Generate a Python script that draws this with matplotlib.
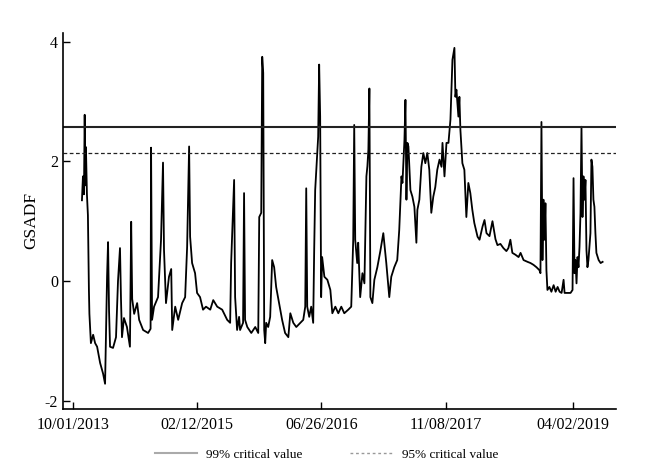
import matplotlib
matplotlib.use("Agg")
import matplotlib.pyplot as plt
from matplotlib.lines import Line2D
import pandas as pd

plt.rcParams['font.family'] = ['Liberation Serif', 'DejaVu Serif']
plt.rcParams['axes.unicode_minus'] = False

# GSADF statistic; x = days since 10/01/2013
start = pd.Timestamp('2013-10-01')
days = [36, 40, 44, 47, 50, 52, 56, 60, 64, 66, 72, 81, 89, 97, 109, 121, 129, 137, 141, 145,
        149, 161, 173, 181, 189, 193, 197, 205, 217, 229, 234, 238, 246, 258, 266, 282, 302, 312, 314, 318,
        326, 342, 354, 362, 366, 374, 386, 395, 399, 411, 423, 439, 451, 459, 467, 471, 479, 491, 499, 511,
        523, 535, 552, 564, 580, 600, 620, 632, 636, 648, 652, 660, 668, 672, 684, 688, 692, 701, 717, 733,
        745, 749, 757, 761, 765, 769, 773, 777, 785, 793, 801, 809, 817, 829, 841, 853, 866, 874, 886, 898,
        914, 926, 934, 938, 942, 950, 958, 966, 970, 974, 978, 986, 990, 994, 998, 1002, 1011, 1023, 1035, 1043,
        1055, 1067, 1079, 1091, 1107, 1119, 1127, 1131, 1135, 1143, 1147, 1155, 1164, 1172, 1180, 1184, 1188, 1192, 1196, 1204,
        1212, 1224, 1236, 1248, 1260, 1272, 1280, 1292, 1304, 1312, 1321, 1325, 1333, 1337, 1341, 1345, 1349, 1357, 1365, 1373,
        1381, 1385, 1393, 1401, 1409, 1417, 1425, 1433, 1441, 1449, 1457, 1465, 1474, 1482, 1486, 1494, 1502, 1510, 1518, 1526,
        1534, 1538, 1542, 1550, 1554, 1558, 1566, 1574, 1582, 1590, 1598, 1606, 1614, 1627, 1635, 1647, 1655, 1663, 1675, 1687,
        1699, 1707, 1719, 1731, 1743, 1751, 1759, 1767, 1779, 1792, 1800, 1812, 1828, 1840, 1852, 1864, 1876, 1880, 1884, 1888,
        1892, 1896, 1900, 1904, 1908, 1916, 1924, 1933, 1941, 1949, 1957, 1965, 1973, 1977, 2001, 2009, 2013, 2017, 2021, 2025,
        2029, 2033, 2037, 2041, 2045, 2049, 2053, 2057, 2061, 2065, 2069, 2073, 2081, 2085, 2089, 2093, 2097, 2101, 2105, 2114,
        2122, 2130]
gsadf = [1.35, 1.75, 1.45, 2.78, 1.6, 2.24, 1.45, 1.1, -0.15, -0.55, -1.04, -0.9, -1.04, -1.1, -1.37, -1.55, -1.72, 0.07, 0.65, -0.5,
         -1.1, -1.12, -0.94, 0.0, 0.55, -0.3, -0.94, -0.62, -0.77, -1.1, 0.99, -0.3, -0.55, -0.37, -0.65, -0.82, -0.87, -0.8, 2.23, -0.65,
         -0.43, -0.27, 0.69, 1.98, 0.52, -0.37, 0.07, 0.2, -0.82, -0.43, -0.65, -0.37, -0.27, 0.57, 2.25, 0.74, 0.3, 0.13, -0.2, -0.27,
         -0.48, -0.43, -0.48, -0.32, -0.43, -0.48, -0.65, -0.7, 0.3, 1.69, -0.27, -0.82, -0.6, -0.82, -0.7, 1.47, -0.65, -0.77, -0.87, -0.77,
         -0.87, 1.07, 1.14, 3.75, 3.48, -0.82, -1.04, -0.7, -0.77, -0.6, 0.35, 0.23, -0.1, -0.37, -0.65, -0.87, -0.94, -0.54, -0.7, -0.77,
         -0.7, -0.65, -0.43, 1.55, -0.43, -0.6, -0.43, -0.7, 0.52, 1.52, 1.81, 2.41, 3.62, 2.75, -0.27, 0.4, 0.07, 0.02, -0.15, -0.54,
         -0.43, -0.54, -0.43, -0.54, -0.48, -0.43, 0.69, 2.61, 0.69, 0.3, 0.64, -0.27, 0.13, -0.04, 1.75, 1.92, 2.2, 3.22, -0.27, -0.37,
         0.02, 0.23, 0.5, 0.8, 0.3, -0.27, 0.07, 0.23, 0.35, 0.85, 1.75, 1.64, 2.36, 3.03, 1.36, 2.31, 2.25, 1.52, 1.41, 1.24,
         0.64, 1.19, 1.36, 1.91, 2.14, 1.97, 2.14, 1.86, 1.14, 1.41, 1.57, 1.86, 2.03, 1.91, 2.31, 1.75, 2.31, 2.31, 2.7, 3.7,
         3.9, 3.08, 3.2, 2.75, 3.08, 2.53, 1.97, 1.86, 1.07, 1.64, 1.47, 1.19, 0.97, 0.74, 0.69, 0.91, 1.02, 0.8, 0.75, 1.0,
         0.7, 0.6, 0.62, 0.55, 0.5, 0.55, 0.69, 0.47, 0.44, 0.4, 0.47, 0.35, 0.32, 0.3, 0.27, 0.23, 0.18, 0.13, 2.66, 0.35,
         1.36, 0.69, 1.3, 0.18, -0.15, -0.1, -0.18, -0.07, -0.18, -0.1, -0.18, -0.2, 0.02, -0.2, -0.2, -0.15, 1.72, 0.13, 0.35, -0.04,
         0.4, 0.23, 0.57, 1.14, 2.58, 1.07, 1.75, 1.36, 1.69, 0.52, 0.23, 0.35, 0.8, 2.03, 1.91, 1.36, 1.24, 0.8, 0.47, 0.35,
         0.3, 0.32]

cv99 = 2.57
cv95 = 2.14
tick_dates = ['2013-10-01', '2015-02-12', '2016-06-26', '2017-11-08', '2019-04-02']
tick_labels = ['10/01/2013', '02/12/2015', '06/26/2016', '11/08/2017', '04/02/2019']

dates = start + pd.to_timedelta(days, unit='D')

fig = plt.figure(figsize=(6.5, 4.7), dpi=100)
ax = fig.add_axes([0.097, 0.13, 0.85, 0.80])

ax.plot(dates, gsadf, color='black', lw=1.3)
ax.axhline(cv99, color='#222222', lw=1.5)
ax.axhline(cv95, color='#222222', lw=0.9, ls=(0, (3, 2)))

ax.set_xlim(start - pd.Timedelta(days=40), start + pd.Timedelta(days=2182))
ax.set_ylim(-2.14, 4.15)
ax.set_yticks([-2, 0, 2, 4])
ax.set_xticks(pd.to_datetime(tick_dates))
ax.set_xticklabels(tick_labels)
ax.tick_params(direction='in', length=5, width=1, labelsize=11.5, colors='black')
ax.tick_params(axis='x', pad=6)
ax.set_ylabel('GSADF', fontsize=12.5)

for s in ['top', 'right']:
    ax.spines[s].set_visible(False)
for s in ['left', 'bottom']:
    ax.spines[s].set_linewidth(1.2)

handles = [Line2D([], [], color='#aaaaaa', lw=1.5),
           Line2D([], [], color='#999999', lw=1, ls=(0, (2, 2)))]
fig.legend(handles, ['99% critical value', '95% critical value'], loc='center',
           bbox_to_anchor=(0.502, 0.033), ncol=2, frameon=False, fontsize=9.5,
           handlelength=3.2, columnspacing=3.6, handletextpad=0.7)

fig.savefig('out.png', dpi=100)
